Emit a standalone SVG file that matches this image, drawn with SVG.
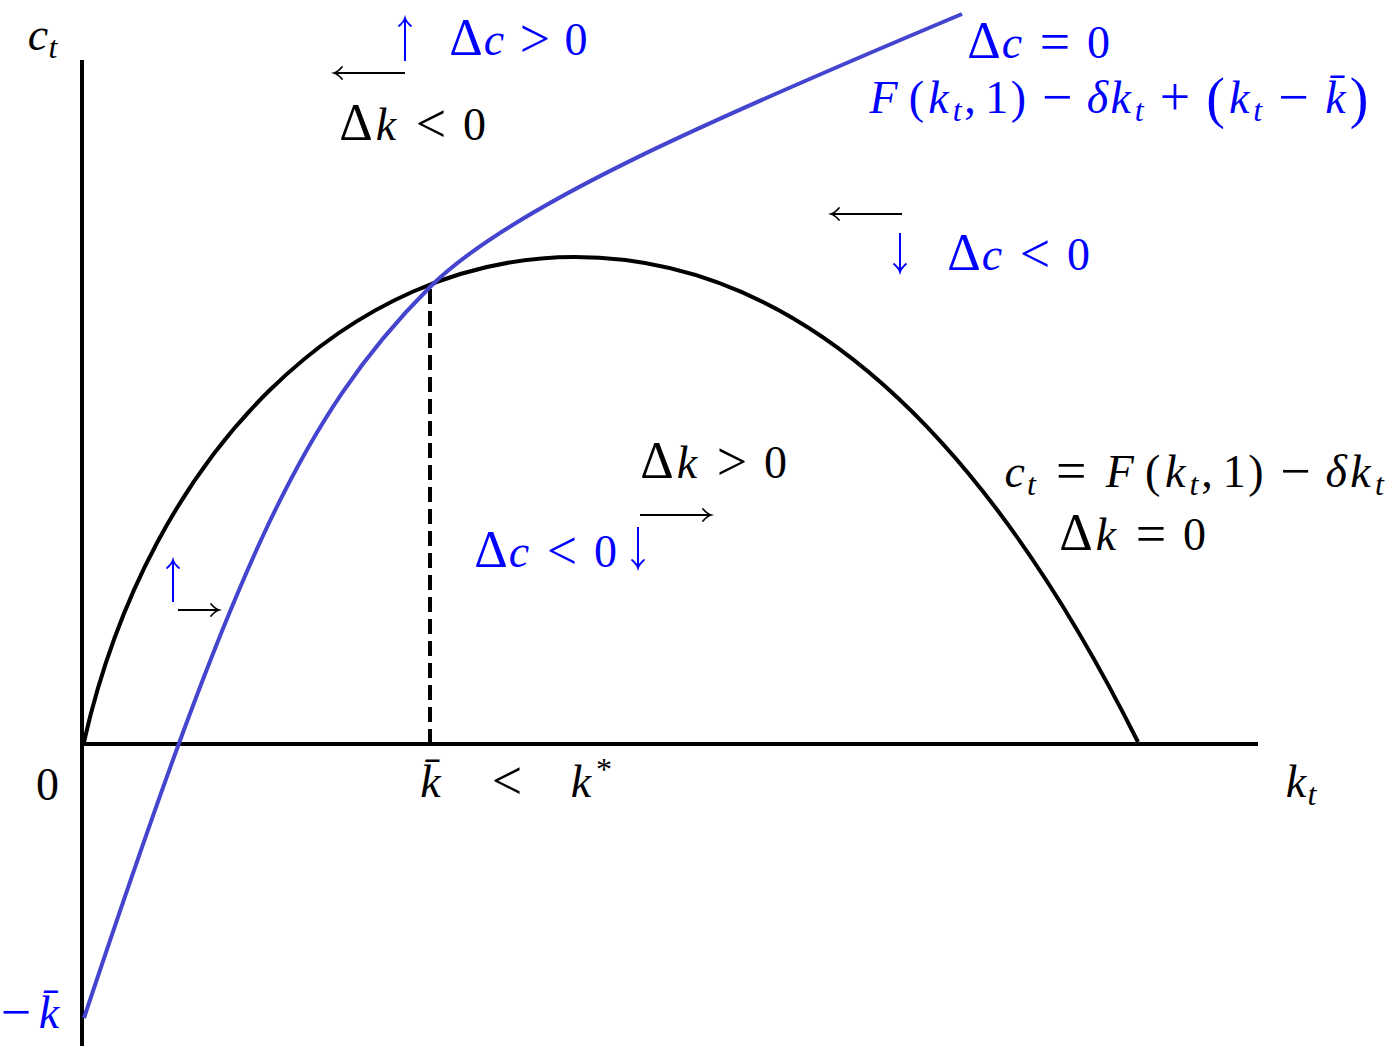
<svg xmlns="http://www.w3.org/2000/svg" width="1398" height="1054" viewBox="0 0 1398 1054">
<style>
.m{font-family:"Liberation Serif","DejaVu Serif",serif;font-size:46px;text-anchor:middle}
.i{font-style:italic}
.s{font-size:32px}
.o{font-size:54px}
.d{font-size:52px}
.big{font-size:56px}
.bl{fill:#0000ff}
.bk{fill:#000}
.ax{stroke:#000;stroke-width:4;fill:none}
.cb{stroke:#000;stroke-width:4;fill:none}
.cu{stroke:#4444cf;stroke-width:4;fill:none}
.ak{stroke:#000;stroke-width:2;fill:none;marker-end:url(#hk)}
.ab{stroke:#0000ff;stroke-width:2;fill:none;marker-end:url(#hb)}
</style>
<defs>
<marker id="hk" markerUnits="userSpaceOnUse" markerWidth="16" markerHeight="16" viewBox="-10 -8 12 16" refX="0" refY="0" orient="auto"><path d="M-8,-6 C-5,-2.5 -2,-0.6 0,0 C-2,0.6 -5,2.5 -8,6" fill="none" stroke="#000" stroke-width="1.8" stroke-linecap="round"/></marker>
<marker id="hb" markerUnits="userSpaceOnUse" markerWidth="16" markerHeight="16" viewBox="-10 -8 12 16" refX="0" refY="0" orient="auto"><path d="M-8,-6 C-5,-2.5 -2,-0.6 0,0 C-2,0.6 -5,2.5 -8,6" fill="none" stroke="#0000ff" stroke-width="1.8" stroke-linecap="round"/></marker>
</defs>
<rect width="1398" height="1054" fill="#fff"/>
<g id="axes">
<line class="ax" x1="82" y1="60" x2="82" y2="1046"/>
<line class="ax" x1="80" y1="744" x2="1258" y2="744"/>
<line class="ax" x1="430" y1="289" x2="430" y2="744" stroke-dasharray="15 7"/>
</g>
<g id="curves">
<path class="cb" d="M84,742 C150,450 350,257 575,257 C815,257 998,462 1138,742"/>
<path class="cu" d="M84,1018 C234,568 300,417 430,287 C510,207 712,119 962,14"/>
</g>
<g id="arrows">
<line class="ab" x1="405" y1="61" x2="405" y2="18"/>
<line class="ak" x1="405" y1="73" x2="334" y2="73"/>
<line class="ak" x1="902" y1="214" x2="831" y2="214"/>
<line class="ab" x1="900" y1="233" x2="900" y2="272"/>
<line class="ak" x1="640" y1="515" x2="711" y2="515"/>
<line class="ab" x1="638" y1="527" x2="638" y2="568"/>
<line class="ab" x1="173" y1="602" x2="173" y2="560"/>
<line class="ak" x1="178" y1="610" x2="219" y2="610"/>
</g>
<g id="labels">
<text class="m bk"><tspan class="i" x="38" y="50">c</tspan><tspan class="i s" x="53" y="58">t</tspan></text>
<text class="m bl"><tspan class="d" x="466" y="55">Δ</tspan><tspan class="i" x="494" y="55">c</tspan><tspan class="o" x="535" y="57">&gt;</tspan><tspan x="576" y="55">0</tspan></text>
<text class="m bk"><tspan class="d" x="356" y="140">Δ</tspan><tspan class="i" x="386" y="140">k</tspan><tspan class="o" x="431" y="142">&lt;</tspan><tspan x="474.6" y="140">0</tspan></text>
<text class="m bl"><tspan class="d" x="984" y="58">Δ</tspan><tspan class="i" x="1012" y="58">c</tspan><tspan class="o" x="1054.9" y="60">=</tspan><tspan x="1098.5" y="58">0</tspan></text>
<text class="m bl"><tspan class="i" x="883.6" y="113">F</tspan><tspan x="916.5" y="113">(</tspan><tspan class="i" x="938.5" y="113">k</tspan><tspan class="i s" x="957.1" y="121">t</tspan><tspan x="969.9" y="113">,</tspan><tspan x="996.8" y="113">1</tspan><tspan x="1018.3" y="113">)</tspan><tspan class="o" x="1057.2" y="115">−</tspan><tspan class="i" x="1097.4" y="113">δ</tspan><tspan class="i" x="1120.7" y="113">k</tspan><tspan class="i s" x="1139.3" y="121">t</tspan><tspan class="o" x="1174.9" y="115">+</tspan><tspan class="big" x="1215.5" y="117">(</tspan><tspan class="i" x="1239.2" y="113">k</tspan><tspan class="i s" x="1257.8" y="121">t</tspan><tspan class="o" x="1293.4" y="115">−</tspan><tspan class="i" x="1335.5" y="113">k̄</tspan><tspan class="big" x="1359.1" y="117">)</tspan></text>
<text class="m bl"><tspan class="d" x="964" y="270">Δ</tspan><tspan class="i" x="992" y="270">c</tspan><tspan class="o" x="1034.9" y="272">&lt;</tspan><tspan x="1078.5" y="270">0</tspan></text>
<text class="m bk"><tspan class="d" x="657" y="478">Δ</tspan><tspan class="i" x="687" y="478">k</tspan><tspan class="o" x="732" y="480">&gt;</tspan><tspan x="775.6" y="478">0</tspan></text>
<text class="m bl"><tspan class="d" x="491" y="567">Δ</tspan><tspan class="i" x="519" y="567">c</tspan><tspan class="o" x="561.9" y="569">&lt;</tspan><tspan x="605.5" y="567">0</tspan></text>
<text class="m bk"><tspan class="i" x="1014.6" y="487">c</tspan><tspan class="i s" x="1031.5" y="495">t</tspan><tspan class="o" x="1071.3" y="489">=</tspan><tspan class="i" x="1119.8" y="487">F</tspan><tspan x="1152.6" y="487">(</tspan><tspan class="i" x="1175.2" y="487">k</tspan><tspan class="i s" x="1193.9" y="495">t</tspan><tspan x="1206.9" y="487">,</tspan><tspan x="1234.2" y="487">1</tspan><tspan x="1255.8" y="487">)</tspan><tspan class="o" x="1295.6" y="489">−</tspan><tspan class="i" x="1336.3" y="487">δ</tspan><tspan class="i" x="1360.5" y="487">k</tspan><tspan class="i s" x="1379.5" y="495">t</tspan></text>
<text class="m bk"><tspan class="d" x="1076" y="550">Δ</tspan><tspan class="i" x="1106" y="550">k</tspan><tspan class="o" x="1151" y="552">=</tspan><tspan x="1194.6" y="550">0</tspan></text>
<text class="m bk" x="47.5" y="800">0</text>
<text class="m bk"><tspan class="i" x="430.5" y="797">k̄</tspan><tspan class="o" x="507" y="799">&lt;</tspan><tspan class="i" x="581" y="797">k</tspan><tspan class="s" x="604" y="780">*</tspan></text>
<text class="m bk"><tspan class="i" x="1296" y="797">k</tspan><tspan class="i s" x="1312" y="805">t</tspan></text>
<text class="m bl"><tspan class="o" x="16" y="1030">−</tspan><tspan class="i" x="49" y="1028">k̄</tspan></text>
</g>
</svg>
